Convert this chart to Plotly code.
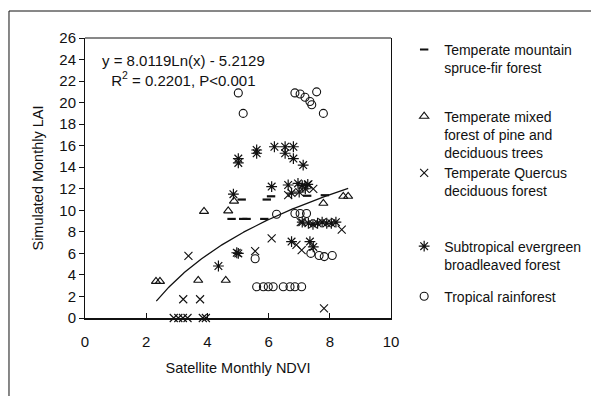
import numpy as np
import plotly.graph_objects as go

# ---------------- data ----------------
spruce_x = [4.79, 5.12, 5.17, 5.28, 5.86, 5.94, 6.08, 7.26, 7.84]
spruce_y = [9.2, 11.0, 9.2, 9.2, 9.2, 11.0, 11.3, 11.35, 11.4]

mixed_x = [2.32, 2.45, 3.70, 4.60, 3.89, 4.68, 4.87, 7.79, 8.44, 8.60]
mixed_y = [3.4, 3.4, 3.5, 3.5, 9.9, 9.95, 10.85, 10.65, 11.3, 11.3]

quercus_x = [2.90, 3.05, 3.20, 3.35, 3.85, 3.95, 3.21, 3.76, 3.38, 5.56,
             6.10, 6.64, 6.91, 7.05, 7.08, 7.30, 7.46, 7.81, 8.39]
quercus_y = [0, 0, 0, 0, 0, 0, 1.74, 1.74, 5.76, 6.2,
             7.4, 11.4, 6.8, 8.9, 6.3, 12.4, 12.0, 0.9, 8.2]

subtrop_x = [4.36, 4.85, 5.01, 5.01, 4.96, 5.61, 5.61, 6.19, 6.54, 6.81,
             6.54, 6.81, 7.13, 6.10, 6.64, 6.96, 7.10, 7.20, 7.00, 7.28,
             6.75, 6.75, 7.35, 7.46, 5.01, 7.10, 7.30, 7.45, 7.60, 7.75,
             7.90, 8.05, 8.20]
subtrop_y = [4.83, 11.5, 14.8, 14.4, 6.06, 15.6, 15.3, 15.9, 15.9, 15.9,
             15.3, 14.8, 14.2, 12.2, 12.35, 12.5, 12.3, 12.0, 11.7, 12.4,
             11.6, 7.1, 7.1, 6.6, 6.0, 8.9, 8.8, 8.7, 8.8, 8.9,
             8.8, 8.8, 8.9]

tropical_x = [5.01, 5.17, 6.86, 7.03, 7.19, 7.35, 7.41, 7.57, 7.79,
              5.61, 5.83, 5.99, 6.15, 6.48, 6.70, 6.86, 7.08,
              5.56, 6.26, 6.86, 7.03, 7.24, 7.38, 7.65, 7.82, 8.08]
tropical_y = [20.9, 19.0, 20.9, 20.8, 20.5, 20.1, 19.8, 21.0, 19.0,
              2.9, 2.9, 2.9, 2.9, 2.9, 2.9, 2.9, 2.9,
              5.5, 9.63, 9.7, 9.7, 9.7, 6.0, 5.8, 5.7, 5.8]

# logarithmic trend line as printed on the chart
fit_a = 8.0119
fit_b = -5.2129
fit_x_start = 2.33
fit_x_end = 8.6

x_ticks = [0, 2, 4, 6, 8, 10]
y_ticks = list(range(0, 27, 2))

names = ["Temperate mountain<br>spruce-fir forest",
         "Temperate mixed<br>forest of pine and<br>deciduous trees",
         "Temperate Quercus<br>deciduous forest",
         "Subtropical evergreen<br>broadleaved forest",
         "Tropical rainforest"]

# ---------------- figure ----------------
FONT = "Liberation Sans, Arial, sans-serif"
INK = "#111111"

fig = go.Figure()

fit_x = np.linspace(fit_x_start, fit_x_end, 200)
fit_y = fit_a * np.log(fit_x) + fit_b
fig.add_trace(go.Scatter(x=fit_x, y=fit_y, mode="lines",
                         line=dict(color=INK, width=1.3),
                         showlegend=False, hoverinfo="skip"))

series = [
    (spruce_x, spruce_y, "line-ew-open", 6, 2.2, "legend"),
    (mixed_x, mixed_y, "triangle-up-open", 8, 1.1, "legend2"),
    (quercus_x, quercus_y, "x-thin-open", 8, 1.1, "legend3"),
    (subtrop_x, subtrop_y, "asterisk-open", 9, 1.2, "legend4"),
    (tropical_x, tropical_y, "circle-open", 8, 1.1, "legend5"),
]
for (xs, ys, sym, size, lw, lg), name in zip(series, names):
    fig.add_trace(go.Scatter(
        x=xs, y=ys, mode="markers", name=name, legend=lg,
        marker=dict(symbol=sym, size=size, color=INK,
                    line=dict(color=INK, width=lw)),
        cliponaxis=False))

legend_tops = [1.0146, 0.7764, 0.5743, 0.3121, 0.1336]
leg_common = dict(x=1.043, xanchor="left", yanchor="top", valign="top",
                  bgcolor="rgba(0,0,0,0)", borderwidth=0,
                  font=dict(family=FONT, size=14, color=INK),
                  itemwidth=30)
legends = {}
for i, yt in enumerate(legend_tops):
    key = "legend" if i == 0 else f"legend{i+1}"
    legends[key] = dict(y=yt, **leg_common)

fig.update_layout(
    width=591, height=396,
    margin=dict(l=85, r=200, t=38, b=78, autoexpand=False),
    paper_bgcolor="white", plot_bgcolor="white",
    font=dict(family=FONT, size=15, color=INK),
    showlegend=True,
    **legends,
    xaxis=dict(range=[0, 10], tickvals=x_ticks, ticks="inside", ticklen=5,
               tickcolor=INK, showline=True, linecolor=INK, linewidth=2,
               showgrid=False, zeroline=False, ticklabelstandoff=9,
               tickfont=dict(size=15),
               title=dict(text="Satellite Monthly NDVI",
                          font=dict(size=14.5), standoff=14),
               automargin=False),
    yaxis=dict(range=[0, 26], tickvals=y_ticks, ticks="outside", ticklen=5,
               tickcolor=INK, showline=True, linecolor=INK, linewidth=1,
               mirror=True, showgrid=False, zeroline=False,
               tickfont=dict(size=15),
               title=dict(text="Simulated Monthly LAI",
                          font=dict(size=14.5), standoff=12),
               automargin=False),
    shapes=[
        dict(type="line", xref="paper", yref="paper", x0=0, x1=1, y0=1, y1=1,
             line=dict(color=INK, width=1)),
        dict(type="line", xref="paper", yref="paper", x0=-0.2484, x1=1.7,
             y0=1.0964, y1=1.0964, line=dict(color=INK, width=1)),
        dict(type="line", xref="paper", yref="paper", x0=-0.2484, x1=-0.2484,
             y0=1.0964, y1=-0.3, line=dict(color=INK, width=1)),
    ],
    annotations=[
        dict(xref="paper", yref="paper", x=0.3235, y=0.883,
             xanchor="center", yanchor="middle", showarrow=False,
             align="center", font=dict(size=15),
             text="y = 8.0119Ln(x) - 5.2129<br>R<sup>2</sup> = 0.2201, P&lt;0.001"),
    ],
)

fig.write_html("out.html")
